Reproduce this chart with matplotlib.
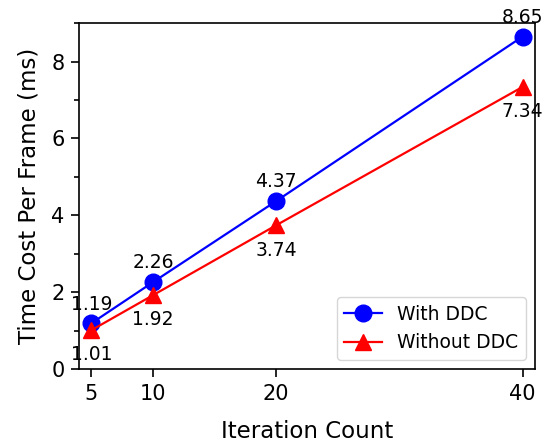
import matplotlib
matplotlib.use("Agg")
import matplotlib.pyplot as plt
from matplotlib.ticker import MultipleLocator

iterations = [5, 10, 20, 40]
with_ddc = [1.19, 2.26, 4.37, 8.65]
without_ddc = [1.01, 1.92, 3.74, 7.34]

fig = plt.figure(figsize=(5.42, 4.44), dpi=100)
ax = fig.add_axes([0.146, 0.169, 0.841, 0.779])

ax.plot(iterations, with_ddc, color="blue", marker="o", markersize=12, lw=1.6, label="With DDC")
ax.plot(iterations, without_ddc, color="red", marker="^", markersize=12, lw=1.6, label="Without DDC")

for x, y in zip(iterations, with_ddc):
    ax.annotate(f"{y:.2f}", (x, y), textcoords="offset points", xytext=(0, 7),
                ha="center", va="bottom", fontsize=13.5)
for x, y in zip(iterations, without_ddc):
    ax.annotate(f"{y:.2f}", (x, y), textcoords="offset points", xytext=(0, -11),
                ha="center", va="top", fontsize=13.5)

ax.set_xlim(4, 41)
ax.set_ylim(0, 9)
ax.set_xticks(iterations)
ax.yaxis.set_major_locator(MultipleLocator(2))
ax.yaxis.set_minor_locator(MultipleLocator(1))
ax.tick_params(axis="both", which="major", labelsize=15, length=5.5, width=1.2, pad=5)
ax.tick_params(axis="y", which="minor", length=3.5, width=1.2)
for s in ax.spines.values():
    s.set_linewidth(1.2)

ax.set_xlabel("Iteration Count", fontsize=16.5, labelpad=12)
ax.set_ylabel("Time Cost Per Frame (ms)", fontsize=16.5, labelpad=8)
ax.legend(loc="lower right", fontsize=13.5)

fig.savefig("out.png", dpi=100)
